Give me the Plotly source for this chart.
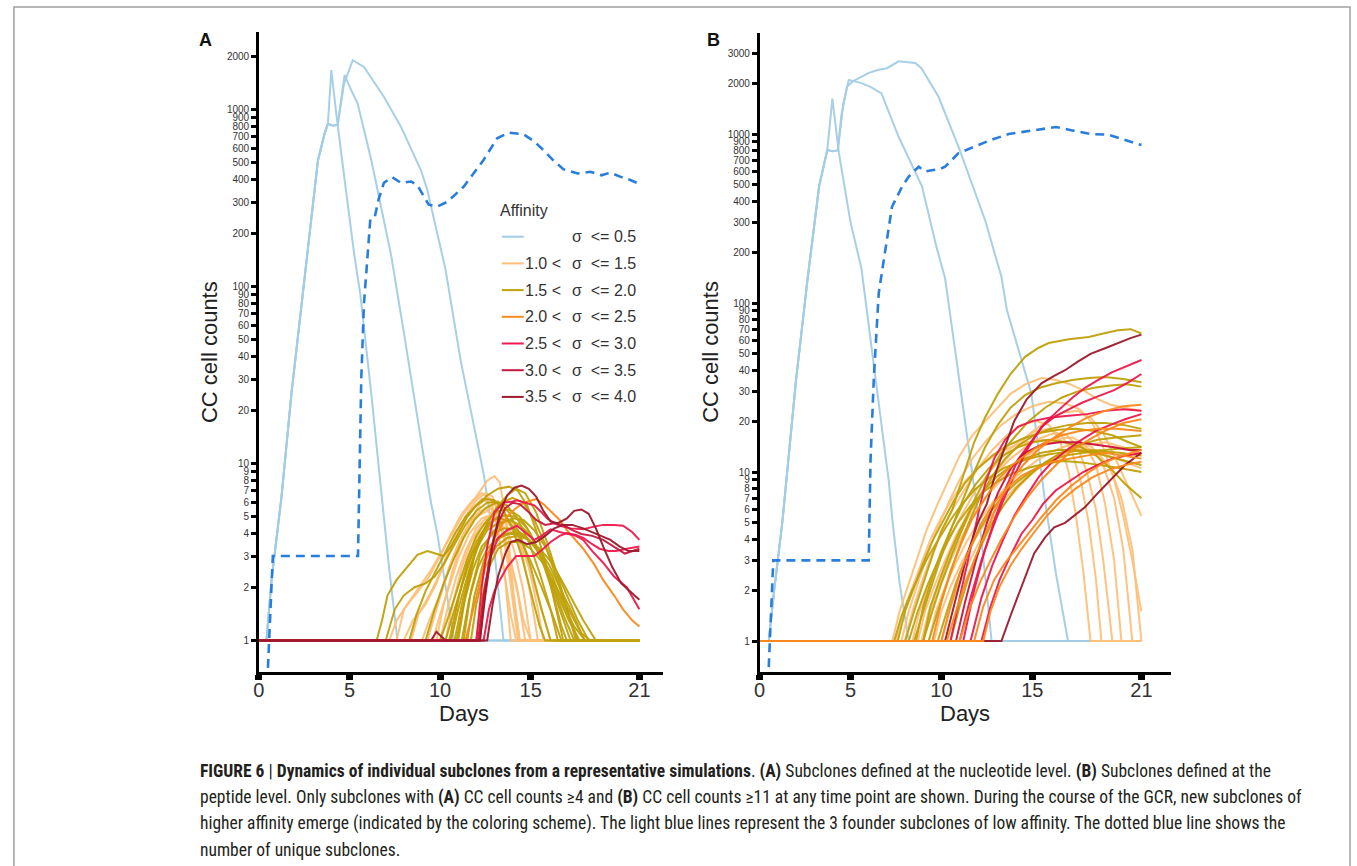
import plotly.graph_objects as go

W, H = 1357, 866

# ---------------------------------------------------------------- data
DAY_TICKS = [0, 5, 10, 15, 21]
COUNT_TICKS_A = [1, 2, 3, 4, 5, 6, 7, 8, 9, 10, 20, 30, 40, 50, 60, 70, 80, 90,
                 100, 200, 300, 400, 500, 600, 700, 800, 900, 1000, 2000]
COUNT_TICKS_B = COUNT_TICKS_A + [3000]
BOLD_TICKS = [1, 2, 10, 100, 1000]

BIN_LEFT = ["", "1.0 <", "1.5 <", "2.0 <", "2.5 <", "3.0 <", "3.5 <"]
BIN_RIGHT = ["σ  <= 0.5", "σ  <= 1.5", "σ  <= 2.0", "σ  <= 2.5",
             "σ  <= 3.0", "σ  <= 3.5", "σ  <= 4.0"]
BIN_COLORS = ["#a3cde5", "#fdc07a", "#bfa20c", "#fa8a1e", "#ee1a4e", "#c8173f", "#9c1a2c"]
UNIQUE_COLOR = "#1f78da"

# ---- Panel A: founders (light blue) and number of unique subclones (dashed)
A_FOUNDERS = [
    [(0, 1), (0.42, 1), (0.7, 2.2), (1.25, 6.5), (1.8, 25), (2.62, 141), (3.26, 515),
     (3.63, 733), (3.81, 835), (4.0, 1670), (4.27, 950), (4.73, 402), (5.27, 150),
     (5.6, 90), (6.2, 25), (6.75, 7), (7.2, 2.5), (7.65, 1), (21, 1)],
    [(0, 1), (0.42, 1), (0.7, 2.2), (1.25, 6.5), (1.8, 25), (2.62, 141), (3.26, 515),
     (3.63, 733), (3.81, 830), (4.1, 810), (4.35, 820), (4.55, 1150), (4.73, 1570),
     (5.0, 1350), (5.45, 1080), (6.2, 520), (7.3, 150), (8.0, 55), (8.75, 17.6),
     (9.5, 6), (9.85, 4), (10.3, 2), (10.77, 1), (21, 1)],
    [(0, 1), (0.42, 1), (0.7, 2.2), (1.25, 6.5), (1.8, 25), (2.62, 141), (3.26, 515),
     (3.63, 733), (3.81, 830), (4.1, 810), (4.35, 820), (4.7, 1400), (5.18, 1900),
     (5.8, 1740), (6.9, 1180), (7.84, 800), (8.94, 455), (9.3, 350), (10.3, 125),
     (11.14, 38), (11.8, 18), (12.4, 8.8), (12.9, 4), (13.2, 2), (13.5, 1), (21, 1)],
]
A_UNIQUE = [(0.5, 0.7), (0.77, 3), (5.47, 3), (5.55, 8), (5.65, 30), (5.8, 80), (5.9, 109),
            (6.15, 240), (6.4, 248), (6.6, 309), (6.9, 385), (7.35, 415), (7.84, 385),
            (8.4, 392), (8.75, 373), (9.1, 321), (9.37, 290), (9.85, 283), (10.4, 301),
            (11.3, 366), (12.4, 518), (13.15, 687), (13.8, 740), (14.6, 725), (15.2, 660),
            (15.7, 590), (16.3, 510), (16.8, 460), (17.6, 435), (18.3, 445), (18.9, 425),
            (19.4, 440), (20.0, 415), (20.5, 400), (21.0, 380)]

# ---- Panel A subclones: (day leaving 1, [(day, count), ...])
A_S15 = [
    (7.6, [(8.0, 1.5), (8.7, 1.9), (9.5, 2.5), (10.4, 3.6), (11.2, 5.0), (12.0, 6.5), (12.6, 8.0),
           (13.0, 8.5), (13.3, 7.8), (13.7, 4.4), (14.06, 1.84), (14.4, 1.0)]),
    (8.4, [(8.8, 1.4), (9.4, 1.8), (10.0, 2.4), (10.6, 3.3), (11.2, 4.5), (11.8, 5.6), (12.3, 6.3),
           (12.7, 6.0), (13.1, 4.6), (13.5, 2.6), (13.9, 1.4), (14.2, 1.0)]),
    (9.0, [(9.4, 1.3), (10.0, 1.8), (10.5, 2.6), (11.0, 3.5), (11.6, 4.6), (12.2, 5.4), (12.8, 5.6),
           (13.3, 4.8), (13.8, 3.2), (14.3, 1.8), (14.7, 1.0)]),
    (9.6, [(10.0, 1.4), (10.5, 2.0), (11.0, 2.9), (11.6, 4.0), (12.3, 4.9), (13.0, 5.2), (13.6, 4.6),
           (14.1, 3.2), (14.6, 1.9), (15.0, 1.0)]),
    (10.0, [(10.4, 1.5), (10.9, 2.3), (11.4, 3.2), (12.0, 4.3), (12.6, 5.0), (13.3, 5.3), (14.0, 4.6),
            (14.5, 3.2), (15.0, 1.8), (15.4, 1.0)]),
    (10.3, [(10.7, 1.6), (11.2, 2.6), (11.7, 3.6), (12.3, 4.5), (12.9, 4.9), (13.6, 4.8), (14.3, 4.0),
            (14.9, 2.6), (15.4, 1.5), (15.7, 1.0)]),
    (10.6, [(11.0, 1.7), (11.5, 2.8), (12.0, 3.8), (12.6, 4.4), (13.3, 4.5), (14.0, 4.1), (14.7, 3.0),
            (15.3, 1.9), (16.1, 1.0)]),
    (8.0, [(8.5, 1.3), (9.2, 1.6), (9.8, 2.1), (10.3, 2.9), (10.9, 4.0), (11.5, 5.2), (12.0, 6.2),
           (12.5, 6.8), (12.9, 6.5), (13.3, 5.0), (13.7, 2.9), (14.0, 1.7), (14.3, 1.0)]),
    (7.2, [(7.6, 1.3), (8.2, 1.6), (8.8, 1.9), (9.4, 2.3), (10.0, 3.0), (10.6, 4.0), (11.2, 5.2),
           (11.8, 6.2), (12.3, 6.8), (12.8, 6.3), (13.2, 4.3), (13.6, 2.2), (13.9, 1.0)]),
    (9.3, [(9.8, 1.5), (10.3, 2.2), (10.8, 3.1), (11.4, 4.2), (12.0, 5.0), (12.6, 5.4), (13.1, 5.0),
           (13.6, 3.6), (14.2, 2.1), (14.6, 1.3), (15.0, 1.0)]),
    (9.8, [(10.2, 1.6), (10.7, 2.5), (11.2, 3.6), (11.7, 4.8), (12.2, 5.9), (12.6, 6.4), (13.0, 6.0),
           (13.4, 4.6), (13.8, 2.8), (14.1, 1.6), (14.4, 1.0)]),
]
A_S20 = [
    (6.5, [(6.8, 1.3), (7.1, 1.8), (7.6, 2.2), (8.2, 2.6), (8.75, 3.05), (9.3, 3.2), (9.8, 3.1),
           (10.2, 3.0), (10.6, 3.4), (11.0, 4.0), (11.5, 5.0), (12.0, 5.8), (12.5, 6.3), (13.0, 6.2),
           (13.5, 5.4), (14.0, 4.3), (14.5, 3.0), (15.0, 1.9), (15.5, 1.2), (15.8, 1.0)]),
    (7.0, [(7.5, 1.5), (8.0, 1.8), (8.6, 2.0), (9.2, 2.1), (9.7, 2.3), (10.2, 2.7), (10.8, 3.5),
           (11.4, 4.5), (12.0, 5.4), (12.6, 6.0), (13.2, 6.1), (13.8, 5.3), (14.4, 4.0), (15.0, 2.6),
           (15.6, 1.5), (16.1, 1.0)]),
    (8.3, [(8.7, 1.4), (9.2, 1.9), (9.7, 2.4), (10.2, 3.0), (10.8, 4.0), (11.4, 5.0), (12.0, 5.8),
           (12.6, 6.6), (13.2, 7.2), (13.8, 7.4), (14.3, 7.0), (14.8, 5.8), (15.3, 4.2), (15.8, 2.8),
           (16.3, 1.7), (16.8, 1.0)]),
    (10.0, [(10.5, 1.4), (11.0, 2.0), (11.5, 2.9), (12.0, 3.9), (12.6, 4.8), (13.2, 5.4), (13.8, 5.5),
            (14.4, 5.0), (15.0, 4.0), (15.6, 2.9), (16.2, 1.9), (16.7, 1.2), (17.0, 1.0)]),
    (10.3, [(10.8, 1.5), (11.3, 2.2), (11.8, 3.1), (12.4, 4.1), (13.0, 4.8), (13.6, 5.1), (14.2, 5.0),
            (14.8, 4.3), (15.4, 3.3), (16.0, 2.3), (16.6, 1.5), (17.2, 1.0)]),
    (10.6, [(11.0, 1.5), (11.5, 2.3), (12.0, 3.3), (12.6, 4.2), (13.2, 4.6), (13.8, 4.8), (14.4, 4.5),
            (15.0, 3.9), (15.6, 3.0), (16.2, 2.1), (16.8, 1.4), (17.4, 1.0)]),
    (10.9, [(11.3, 1.6), (11.8, 2.5), (12.3, 3.4), (12.9, 4.0), (13.5, 4.3), (14.1, 4.3), (14.7, 3.9),
            (15.3, 3.3), (15.9, 2.5), (16.5, 1.8), (17.1, 1.3), (17.7, 1.0)]),
    (11.2, [(11.6, 1.7), (12.1, 2.6), (12.6, 3.3), (13.2, 3.8), (13.8, 4.0), (14.4, 4.0), (15.0, 3.6),
            (15.6, 3.0), (16.2, 2.3), (16.8, 1.6), (17.4, 1.2), (18.0, 1.0)]),
    (11.5, [(11.9, 1.8), (12.4, 2.8), (13.0, 3.6), (13.6, 4.0), (14.2, 4.1), (14.8, 3.8), (15.4, 3.3),
            (16.0, 2.7), (16.6, 2.0), (17.2, 1.5), (17.8, 1.1), (18.3, 1.0)]),
    (10.8, [(11.2, 1.6), (11.7, 2.6), (12.2, 3.8), (12.8, 5.0), (13.4, 6.0), (14.0, 6.4), (14.6, 6.0),
            (15.2, 4.8), (15.8, 3.5), (16.4, 2.3), (17.0, 1.5), (17.5, 1.0)]),
    (11.0, [(11.4, 1.8), (11.9, 3.0), (12.5, 4.4), (13.1, 5.6), (13.7, 6.6), (14.2, 7.2), (14.7, 6.8),
            (15.3, 5.3), (15.9, 3.6), (16.5, 2.3), (17.1, 1.4), (17.6, 1.0)]),
    (11.3, [(11.7, 1.9), (12.2, 3.0), (12.8, 4.0), (13.4, 4.6), (14.0, 4.9), (14.6, 4.8), (15.2, 4.2),
            (15.8, 3.4), (16.4, 2.5), (17.0, 1.8), (17.6, 1.3), (18.2, 1.0)]),
    (10.5, [(11.0, 1.7), (11.5, 2.7), (12.0, 3.6), (12.6, 4.5), (13.2, 5.0), (13.8, 4.7), (14.4, 3.8),
            (15.0, 2.8), (15.6, 2.0), (16.2, 1.4), (16.7, 1.0)]),
    (11.7, [(12.0, 1.6), (12.5, 2.6), (13.1, 3.4), (13.7, 3.8), (14.3, 3.9), (14.9, 3.7), (15.5, 3.3),
            (16.1, 2.8), (16.7, 2.2), (17.3, 1.7), (17.9, 1.3), (18.6, 1.0)]),
    (9.2, [(9.7, 1.5), (10.2, 2.1), (10.7, 2.8), (11.3, 3.8), (11.9, 4.8), (12.5, 5.6), (13.1, 6.0),
           (13.7, 5.8), (14.3, 4.8), (14.9, 3.6), (15.5, 2.4), (16.1, 1.5), (16.5, 1.0)]),
    (12.0, [(12.3, 1.7), (12.7, 2.6), (13.2, 3.3), (13.8, 3.6), (14.4, 3.6), (15.0, 3.3), (15.6, 2.8),
            (16.2, 2.2), (16.8, 1.7), (17.4, 1.3), (18.0, 1.0)]),
]
A_S25 = [
    (11.4, [(11.9, 1.6), (12.4, 2.6), (12.9, 3.6), (13.3, 4.3), (13.7, 5.0), (14.1, 5.5), (14.6, 6.0),
            (15.0, 6.2), (15.3, 6.3), (15.7, 5.9), (16.1, 5.4), (16.6, 4.8), (17.0, 4.2), (17.5, 3.7),
            (17.9, 3.3), (18.5, 2.7), (19.0, 2.2), (19.6, 1.8), (20.1, 1.5), (20.6, 1.3), (21.0, 1.2)]),
]
A_S30 = [
    (12.0, [(12.3, 2.0), (12.6, 3.4), (13.0, 5.3), (13.5, 6.0), (14.0, 6.1), (14.25, 6.2), (14.7, 6.0),
            (15.2, 5.8), (15.6, 5.3), (15.9, 4.9), (16.3, 4.6), (16.6, 4.45), (17.2, 4.3), (17.9, 4.25),
            (18.5, 4.4), (19.0, 4.5), (19.6, 4.5), (20.1, 4.45), (20.6, 4.1), (21.0, 3.7)]),
    (12.4, [(12.7, 1.5), (13.0, 1.9), (13.3, 2.2), (13.7, 2.6), (14.2, 3.0), (14.7, 3.0), (15.2, 3.0),
            (15.7, 3.3), (16.1, 3.6), (16.6, 3.9), (17.0, 4.05), (17.5, 3.95), (17.9, 3.8), (18.4, 3.5),
            (18.8, 3.3), (19.3, 3.2), (19.7, 3.2), (20.3, 3.3), (21.0, 3.4)]),
    (12.2, [(12.5, 2.0), (12.8, 3.0), (13.2, 3.8), (13.7, 4.2), (14.25, 4.45), (14.7, 4.1), (15.2, 3.7),
            (15.6, 3.9), (16.1, 4.25), (16.6, 4.1), (17.0, 4.0), (17.5, 3.9), (17.9, 3.7), (18.4, 3.2),
            (19.0, 2.75), (19.6, 2.3), (20.3, 2.0), (20.7, 1.7), (21.0, 1.5)]),
]
A_S35 = [
    (12.1, [(12.4, 1.8), (12.8, 3.2), (13.2, 4.6), (13.6, 5.6), (14.0, 6.0), (14.4, 5.9), (14.9, 5.3),
            (15.3, 4.8), (15.8, 4.5), (16.3, 4.6), (16.8, 4.5), (17.3, 4.2), (17.8, 4.0), (18.4, 3.9),
            (19.0, 3.7), (19.6, 3.4), (20.2, 3.1), (21.0, 3.3)]),
]
A_S40 = [
    (12.2, [(12.5, 1.8), (12.9, 3.5), (13.3, 5.3), (13.7, 6.6), (14.1, 7.3), (14.5, 7.5), (14.9, 7.2),
            (15.3, 6.5), (15.7, 5.4), (16.1, 4.7), (16.5, 4.6), (17.0, 4.9), (17.4, 5.4), (17.8, 5.5),
            (18.2, 5.2), (18.6, 4.3), (19.0, 3.4), (19.5, 2.6), (20.0, 2.1), (20.5, 1.9), (21.0, 1.7)]),
    (9.5, [(9.8, 1.12), (10.1, 1.05), (10.3, 1.0), (12.6, 1.0), (12.9, 1.6), (13.2, 2.3), (13.6, 3.1),
           (13.9, 3.6), (14.3, 3.7), (14.8, 3.5), (15.3, 3.6), (15.8, 3.9), (16.3, 4.3), (16.8, 4.5),
           (17.3, 4.5), (17.9, 4.3), (18.4, 4.1), (18.9, 3.9), (19.4, 3.7), (19.9, 3.4), (20.4, 3.2),
           (21.0, 3.2)]),
]

# ---- Panel B: founders and number of unique subclones
B_FOUNDERS = [
    [(0, 1), (0.5, 1), (0.8, 2), (1.26, 5.2), (2.0, 35), (2.63, 137), (3.27, 490), (3.72, 804),
     (4.0, 1620), (4.36, 770), (5.0, 300), (5.6, 160), (6.37, 36), (7.1, 8.9), (7.3, 5.2),
     (7.7, 2.2), (8.2, 1), (21, 1)],
    [(0, 1), (0.5, 1), (0.8, 2), (1.26, 5.2), (2.0, 35), (2.63, 137), (3.27, 490), (3.72, 804),
     (4.0, 790), (4.3, 800), (4.6, 1500), (4.9, 2090), (5.6, 2000), (6.1, 1900), (6.7, 1740),
     (7.65, 960), (8.93, 490), (9.7, 220), (10.2, 140), (10.9, 40), (11.66, 10.8), (12.2, 4),
     (12.76, 1), (21, 1)],
    [(0, 1), (0.5, 1), (0.8, 2), (1.26, 5.2), (2.0, 35), (2.63, 137), (3.27, 490), (3.72, 804),
     (4.0, 790), (4.3, 800), (4.5, 1300), (4.8, 1900), (5.1, 2040), (6.0, 2300), (6.55, 2400),
     (7.0, 2450), (7.65, 2690), (8.56, 2630), (8.9, 2450), (9.84, 1660), (10.94, 840), (12.4, 310),
     (13.3, 143), (13.6, 91), (14.95, 29), (15.67, 7.1), (16.3, 2.5), (16.96, 1), (21, 1)],
]
B_UNIQUE = [(0.5, 0.7), (0.75, 3), (6.0, 3), (6.1, 11.8), (6.28, 36), (6.55, 114), (6.83, 180),
            (7.28, 371), (7.83, 487), (8.2, 560), (8.75, 640), (9.1, 600), (9.47, 610), (9.9, 620),
            (10.2, 640), (10.94, 770), (11.8, 840), (12.7, 920), (13.7, 1000), (15.0, 1050),
            (16.3, 1100), (17.2, 1050), (18.2, 1000), (19.2, 990), (20.1, 920), (21.0, 860)]

B_S15 = [
    (7.3, [(7.7, 1.5), (8.2, 2.2), (8.7, 3.2), (9.2, 4.6), (9.8, 6.5), (10.4, 9), (11.0, 12.5),
           (11.7, 16.5), (12.4, 20), (13.1, 24), (13.8, 29), (14.6, 33), (15.5, 36), (16.3, 35),
           (17.1, 33), (17.9, 30), (18.6, 27), (19.3, 25), (20.1, 24), (21.0, 23)]),
    (7.8, [(8.2, 1.5), (8.7, 2.2), (9.2, 3.2), (9.8, 4.7), (10.4, 6.6), (11.0, 9), (11.7, 12),
           (12.5, 15.5), (13.3, 19), (14.1, 22), (15.0, 24.5), (15.9, 26), (16.8, 25.5), (17.6, 23.5),
           (18.3, 19.5), (18.9, 14), (19.5, 9), (20.0, 5.5), (20.5, 3), (21.0, 1.5)]),
    (8.0, [(8.4, 1.5), (8.9, 2.2), (9.4, 3.1), (10.0, 4.4), (10.6, 6), (11.3, 8), (12.0, 10.5),
           (12.8, 13.5), (13.6, 16.5), (14.4, 19), (15.2, 20), (15.9, 19), (16.5, 15.5), (17.0, 10),
           (17.4, 5.5), (17.8, 2.6), (18.2, 1.0)]),
    (8.4, [(8.8, 1.5), (9.3, 2.1), (9.9, 3.0), (10.5, 4.2), (11.2, 5.8), (11.9, 7.8), (12.7, 10.2),
           (13.5, 12.8), (14.3, 15.3), (15.1, 17.3), (15.9, 18), (16.6, 16.5), (17.2, 13), (17.7, 8.5),
           (18.1, 5), (18.5, 2.3), (18.8, 1.0)]),
    (8.7, [(9.1, 1.5), (9.6, 2.1), (10.2, 3.0), (10.8, 4.2), (11.5, 5.8), (12.2, 7.6), (13.0, 9.8),
           (13.8, 12), (14.6, 14), (15.4, 15.8), (16.2, 17), (16.9, 16.5), (17.5, 14), (18.0, 10),
           (18.5, 6), (18.9, 3), (19.4, 1.0)]),
    (9.0, [(9.4, 1.5), (9.9, 2.1), (10.5, 3.0), (11.1, 4.1), (11.8, 5.6), (12.5, 7.2), (13.3, 9),
           (14.1, 11), (14.9, 12.8), (15.7, 14.5), (16.5, 15.8), (17.2, 16), (17.9, 14.5), (18.5, 11),
           (19.0, 6.5), (19.5, 3), (19.9, 1.0)]),
    (9.3, [(9.7, 1.5), (10.2, 2.1), (10.8, 2.9), (11.4, 3.9), (12.1, 5.2), (12.9, 6.8), (13.7, 8.5),
           (14.5, 10.2), (15.3, 11.8), (16.1, 13.2), (16.9, 14.3), (17.6, 15), (18.3, 14), (18.9, 11),
           (19.5, 7), (20.0, 3.5), (20.5, 1.0)]),
    (9.6, [(10.0, 1.5), (10.5, 2.1), (11.1, 2.9), (11.7, 3.8), (12.4, 5.0), (13.2, 6.4), (14.0, 8),
           (14.8, 9.6), (15.6, 11), (16.4, 12.3), (17.2, 13.3), (17.9, 13.8), (18.6, 13), (19.3, 10.5),
           (19.9, 7), (20.5, 3.5), (21.0, 1.0)]),
    (8.9, [(9.3, 1.5), (9.8, 2.1), (10.4, 3.0), (11.0, 4.3), (11.7, 6.0), (12.5, 8.3), (13.3, 11),
           (14.1, 14), (14.9, 17), (15.8, 20), (16.7, 22.5), (17.5, 23), (18.2, 21), (18.9, 17),
           (19.5, 12.5), (20.1, 9), (20.6, 7), (21.0, 5.5)]),
    (7.5, [(7.9, 1.5), (8.4, 2.1), (8.9, 2.9), (9.4, 4.0), (10.0, 5.4), (10.6, 7.0), (11.3, 8.8),
           (12.1, 10.8), (12.9, 12.5), (13.8, 14), (14.7, 15), (15.6, 15.5), (16.5, 15.3), (17.4, 14.5),
           (18.3, 13.5), (19.2, 12.5), (20.1, 11.5), (21.0, 10.5)]),
    (10.0, [(10.4, 1.5), (10.9, 2.1), (11.5, 2.9), (12.1, 3.9), (12.8, 5.2), (13.6, 6.8), (14.4, 8.5),
            (15.2, 10.3), (16.1, 12), (17.0, 13.5), (18.0, 14.5), (19.0, 15), (20.0, 14), (21.0, 12.5)]),
]
B_S20 = [
    (8.0, [(8.5, 1.5), (9.0, 2.2), (9.5, 3.2), (10.0, 4.5), (10.6, 6.0), (11.2, 9.5), (11.8, 15),
           (12.4, 21), (13.1, 29), (13.8, 38), (14.6, 48), (15.3, 54), (15.9, 58), (17.0, 61),
           (18.1, 63), (18.9, 66), (19.7, 69), (20.4, 70), (21.0, 66)]),
    (8.5, [(9.0, 1.5), (9.5, 2.2), (10.0, 3.2), (10.6, 4.8), (11.2, 7), (11.8, 10), (12.4, 14),
           (13.1, 19), (13.8, 24), (14.6, 28.5), (15.4, 31.5), (16.3, 33.5), (17.2, 35), (18.1, 36),
           (19.0, 36.5), (20.0, 35.5), (21.0, 34)]),
    (9.0, [(9.5, 1.5), (10.0, 2.2), (10.6, 3.3), (11.2, 4.8), (11.8, 6.8), (12.5, 9.5), (13.2, 12.5),
           (14.0, 16), (14.8, 20), (15.7, 24), (16.6, 27.5), (17.5, 30), (18.4, 31.5), (19.3, 32.5),
           (20.2, 33), (21.0, 32)]),
    (9.3, [(9.8, 1.5), (10.3, 2.2), (10.9, 3.4), (11.5, 5.0), (12.1, 7.0), (12.8, 9.5), (13.5, 12),
           (14.3, 14.5), (15.1, 16.5), (16.0, 18), (17.0, 19), (18.0, 19.5), (19.0, 19.5), (20.0, 19),
           (21.0, 18)]),
    (8.6, [(9.0, 1.6), (9.5, 2.4), (10.0, 3.4), (10.6, 4.8), (11.2, 6.5), (11.9, 8.5), (12.6, 10.5),
           (13.4, 12.5), (14.2, 14), (15.0, 15), (15.9, 15.5), (16.8, 15), (17.7, 14), (18.5, 12.5),
           (19.3, 10.5), (20.1, 8.5), (21.0, 7)]),
    (7.4, [(7.8, 1.4), (8.3, 1.9), (8.8, 2.5), (9.3, 3.2), (9.9, 4.1), (10.5, 5.2), (11.1, 6.4),
           (11.8, 7.8), (12.6, 9.2), (13.4, 10.5), (14.3, 11.5), (15.2, 12.3), (16.1, 12.8),
           (17.0, 13.2), (18.0, 13.4), (19.0, 13.5), (20.0, 13.8), (21.0, 14)]),
    (9.8, [(10.3, 1.5), (10.8, 2.2), (11.4, 3.2), (12.0, 4.4), (12.7, 5.8), (13.4, 7.3), (14.2, 8.8),
           (15.0, 10.2), (15.9, 11.5), (16.8, 12.5), (17.8, 13), (18.8, 13.2), (19.8, 13), (21.0, 12.5)]),
    (8.2, [(8.7, 1.5), (9.2, 2.1), (9.7, 2.8), (10.3, 3.8), (10.9, 5.0), (11.6, 6.3), (12.3, 7.6),
           (13.1, 8.8), (13.9, 9.8), (14.8, 10.6), (15.7, 11.2), (16.7, 11.6), (17.7, 11.4),
           (18.7, 11), (19.7, 10.6), (21.0, 10)]),
    (10.5, [(11.0, 1.6), (11.5, 2.4), (12.1, 3.5), (12.7, 4.8), (13.4, 6.3), (14.1, 8.0), (14.9, 9.7),
            (15.7, 11.4), (16.6, 13), (17.6, 14.5), (18.6, 15.5), (19.6, 16), (21.0, 16.5)]),
    (9.0, [(9.4, 1.6), (9.9, 2.3), (10.4, 3.2), (11.0, 4.5), (11.6, 6.0), (12.3, 7.7), (13.0, 9.3),
           (13.8, 10.8), (14.6, 12), (15.5, 13), (16.4, 13.5), (17.4, 13.5), (18.4, 13), (19.4, 12.2),
           (20.3, 11.5), (21.0, 11)]),
    (7.6, [(8.0, 1.5), (8.5, 2.1), (9.0, 2.9), (9.5, 3.9), (10.1, 5.2), (10.7, 6.8), (11.3, 8.6),
           (12.0, 10.5), (12.8, 12.5), (13.6, 14.3), (14.5, 15.8), (15.4, 17), (16.4, 17.8),
           (17.4, 18), (18.4, 17.5), (19.4, 16.5), (20.3, 15), (21.0, 14)]),
]
B_S25 = [
    (10.3, [(10.8, 1.5), (11.3, 2.2), (11.9, 3.2), (12.5, 4.6), (13.1, 6.5), (13.8, 8.8), (14.5, 11),
            (15.3, 13.5), (16.2, 16), (17.1, 18.5), (18.0, 21), (19.0, 23), (20.0, 24.5), (21.0, 25)]),
    (11.0, [(11.5, 1.5), (12.1, 2.2), (12.7, 3.0), (13.3, 4.0), (14.0, 5.4), (14.7, 7.0), (15.5, 9.0),
            (16.3, 11), (17.2, 13.5), (18.1, 15.5), (19.0, 17.5), (20.0, 19.5), (21.0, 20.5)]),
    (11.8, [(12.3, 1.6), (12.9, 2.3), (13.5, 2.9), (14.1, 3.5), (14.8, 4.3), (15.5, 5.4), (16.3, 6.8),
            (17.1, 8.2), (18.0, 9.8), (18.9, 11.3), (19.9, 12.5), (21.0, 13.5)]),
    (10.0, [(10.5, 1.6), (11.0, 2.5), (11.6, 3.6), (12.2, 5.0), (12.9, 6.6), (13.6, 8.0), (14.4, 9.5),
            (15.2, 10.5), (16.1, 11.5), (17.0, 12), (18.0, 12.5), (19.0, 13), (20.0, 12.5), (21.0, 12)]),
    (12.3, [(12.7, 1.5), (13.2, 2.1), (13.8, 2.8), (14.4, 3.5), (15.1, 4.4), (15.8, 5.5), (16.6, 6.8),
            (17.4, 8), (18.3, 9.3), (19.2, 10.3), (20.1, 11), (21.0, 11.5)]),
    (9.5, [(10.0, 1.7), (10.5, 2.6), (11.1, 3.8), (11.7, 5.3), (12.4, 7), (13.1, 9), (13.9, 11),
           (14.8, 13), (15.7, 15), (16.6, 16.5), (17.6, 17.5), (18.6, 18), (19.6, 18), (21.0, 17.5)]),
]
B_S30 = [
    (11.2, [(11.8, 2.0), (12.4, 3.5), (13.0, 5.5), (13.6, 8.3), (14.2, 11.8), (15.0, 15.5), (15.7, 19.5),
            (16.4, 23), (17.2, 27.5), (17.9, 31.5), (18.6, 35), (19.4, 39), (20.2, 42.5), (21.0, 46)]),
    (11.0, [(11.6, 1.8), (12.2, 3.0), (12.8, 4.6), (13.4, 6.8), (14.0, 9.5), (14.7, 13.5), (15.5, 18.5),
            (16.3, 21.5), (17.0, 23.5), (17.7, 25.6), (18.6, 28), (19.5, 30.5), (20.3, 34), (21.0, 38)]),
    (11.6, [(12.2, 1.8), (12.8, 2.8), (13.4, 4.0), (14.0, 5.5), (14.7, 7.3), (15.4, 9.5), (16.1, 11.5),
            (16.9, 13.5), (17.7, 15.5), (18.5, 17.5), (19.3, 19), (20.1, 20.5), (21.0, 22)]),
    (12.2, [(12.7, 1.6), (13.2, 2.3), (13.8, 3.2), (14.4, 4.3), (15.0, 5.2), (15.6, 6.5), (16.3, 7.8),
            (17.0, 8.8), (17.8, 10), (18.6, 11), (19.4, 12), (20.2, 12.5), (21.0, 13)]),
    (10.5, [(11.0, 1.8), (11.5, 3.2), (12.0, 5.5), (12.4, 8.5), (12.9, 12), (13.5, 15.5), (14.2, 18.5),
            (15.0, 20), (16.0, 21), (17.0, 21.5), (18.0, 22), (19.0, 23), (20.0, 23.5), (21.0, 23)]),
]
B_S35 = [
    (10.8, [(11.3, 1.7), (11.9, 3.0), (12.5, 5.0), (13.1, 7.5), (13.8, 10.5), (14.6, 13), (15.5, 14.5),
            (16.5, 15), (17.5, 15), (18.5, 14.5), (19.5, 14), (20.3, 13.5), (21.0, 13.5)]),
]
B_S40 = [
    (10.2, [(10.8, 1.8), (11.4, 3.2), (12.0, 5.0), (12.5, 6.5), (13.0, 10), (13.5, 14), (14.0, 20),
            (14.7, 27), (15.5, 33.5), (16.2, 37), (16.8, 40), (17.5, 45), (18.2, 50), (19.0, 54),
            (19.7, 58), (20.4, 62), (21.0, 65)]),
    (13.3, [(13.85, 1.46), (14.6, 2.4), (15.1, 3.3), (15.7, 4.1), (16.2, 4.7), (16.8, 5.0), (17.9, 6.2),
            (18.6, 7.5), (19.3, 9.0), (20.1, 11), (21.0, 13)]),
]

# ---------------------------------------------------------------- helpers
def xp(px):
    return px / W


def yp(py):
    return 1 - py / H


def expand(start, pts):
    seq = [(0, 1), (start, 1)] + list(pts)
    if seq[-1][1] == 1 and seq[-1][0] < 21:
        seq.append((21, 1))
    return seq


fig = go.Figure()


def add_line(seq, color, xa, ya, width=2.0, dash=None):
    fig.add_trace(go.Scatter(
        x=[p[0] for p in seq], y=[p[1] for p in seq], mode="lines",
        line=dict(color=color, width=width, dash=dash), opacity=0.95,
        xaxis=xa, yaxis=ya, showlegend=False, hoverinfo="skip"))


# Panel A
for f in A_FOUNDERS:
    add_line(f, BIN_COLORS[0], "x", "y")
for grp, col in [(A_S15, BIN_COLORS[1]), (A_S20, BIN_COLORS[2]), (A_S25, BIN_COLORS[3]),
                 (A_S30, BIN_COLORS[4]), (A_S35, BIN_COLORS[5]), (A_S40, BIN_COLORS[6])]:
    for start, pts in grp:
        add_line(expand(start, pts), col, "x", "y")
add_line(A_UNIQUE, UNIQUE_COLOR, "x", "y", width=2.6, dash="9px,6px")

# Panel B
for f in B_FOUNDERS:
    add_line(f, BIN_COLORS[0], "x2", "y2")
for grp, col in [(B_S15, BIN_COLORS[1]), (B_S20, BIN_COLORS[2]), (B_S30, BIN_COLORS[4]),
                 (B_S35, BIN_COLORS[5]), (B_S40, BIN_COLORS[6]), (B_S25, BIN_COLORS[3])]:
    for start, pts in grp:
        add_line(expand(start, pts), col, "x2", "y2")
add_line(B_UNIQUE, UNIQUE_COLOR, "x2", "y2", width=2.6, dash="9px,6px")

# ---------------------------------------------------------------- axes
A_X = [xp(254), xp(660)]
B_X = [xp(757), xp(1170)]
A_Y = [yp(672), yp(31.7)]
B_Y = [yp(672), yp(33)]
A_YR = [-(672 - 640.5) / 177, (640.5 - 31.7) / 177]
B_YR = [-(672 - 641) / 169, (641 - 33) / 169]
A_XR = [0, (660 - 254) / 18.2]
B_XR = [0, (1170 - 757) / 18.26]

FONT = "Arial, Liberation Sans, Helvetica, sans-serif"
TICKFONT_Y = dict(family=FONT, size=10, color="#333")
TICKFONT_X = dict(family=FONT, size=20, color="#333")


def xaxis(dom, rng, anchor):
    return dict(domain=dom, range=rng, anchor=anchor, tickmode="array", tickvals=DAY_TICKS,
                ticktext=[str(v) for v in DAY_TICKS], ticks="outside", ticklen=5, tickwidth=7,
                tickcolor="black", showline=True, linecolor="black", linewidth=2.5,
                showgrid=False, zeroline=False, tickfont=TICKFONT_X, fixedrange=True)


def yaxis(dom, rng, anchor, vals):
    return dict(domain=dom, range=rng, anchor=anchor, type="log", tickmode="array", tickvals=vals,
                ticktext=[str(v) for v in vals], ticks="outside", ticklen=5, tickwidth=2.5,
                tickcolor="black", showline=True, linecolor="black", linewidth=2.5,
                showgrid=False, zeroline=False, tickfont=TICKFONT_Y, fixedrange=True)


def boldaxis(over, rng, anchor):
    return dict(overlaying=over, anchor=anchor, range=rng, type="log", tickmode="array",
                tickvals=BOLD_TICKS, ticks="outside", ticklen=6, tickwidth=5.5, tickcolor="black",
                showticklabels=False, showline=False, showgrid=False, zeroline=False, fixedrange=True)


def note(px, py, text, size, color="#222", xanchor="center", angle=0, family=FONT):
    return dict(x=xp(px), y=yp(py), text=text, showarrow=False, xref="paper", yref="paper",
                xanchor=xanchor, yanchor="middle", textangle=angle,
                font=dict(family=family, size=size, color=color))


# ---------------------------------------------------------------- annotations
ann = []
ann.append(note(200, 40, "<b>A</b>", 18, "#111"))
ann.append(note(711, 40, "<b>B</b>", 18, "#111"))
for cx in (204, 707):
    ann.append(note(cx, 352, "CC cell counts", 22, angle=-90))
for cx in (460, 963):
    ann.append(note(cx, 713, "Days", 22))

# legend (panel A)
shapes = []
ann.append(note(494, 211, "Affinity", 16, "#333", xanchor="left"))
for i in range(len(BIN_RIGHT)):
    ry = 236.7 + 26.7 * i
    shapes.append(dict(type="line", xref="paper", yref="paper", x0=xp(498), x1=xp(520),
                       y0=yp(ry), y1=yp(ry), line=dict(color=BIN_COLORS[i], width=2)))
    if BIN_LEFT[i]:
        ann.append(note(559, ry, BIN_LEFT[i], 16, "#333", xanchor="right"))
    ann.append(note(567, ry, BIN_RIGHT[i].replace("  ", "\u00a0\u00a0"), 16, "#333", xanchor="left"))

# caption
CAPTION = [
    "<b>FIGURE 6</b> | <b>Dynamics of individual subclones from a representative simulations</b>. "
    "<b>(A)</b> Subclones defined at the nucleotide level. <b>(B)</b> Subclones defined at the",
    "peptide level. Only subclones with <b>(A)</b> CC cell counts ≥4 and <b>(B)</b> CC cell counts ≥11 "
    "at any time point are shown. During the course of the GCR, new subclones of",
    "higher affinity emerge (indicated by the coloring scheme). The light blue lines represent the 3 "
    "founder subclones of low affinity. The dotted blue line shows the",
    "number of unique subclones.",
]
CAP_FONT = "Liberation Sans Narrow, Arial Narrow, Roboto Condensed, DejaVu Sans Condensed, sans-serif"
for i, line in enumerate(CAPTION):
    ann.append(note(193, 771 + 26.4 * i, line, 17.5, "#231f20", xanchor="left", family=CAP_FONT))

shapes.append(dict(type="rect", xref="paper", yref="paper", x0=xp(8), x1=xp(1350), y0=yp(875),
                   y1=yp(7), line=dict(color="#a0a0a0", width=1.5)))

fig.update_layout(
    width=W, height=H, margin=dict(l=0, r=0, t=0, b=0), autosize=False,
    paper_bgcolor="white", plot_bgcolor="rgba(0,0,0,0)", showlegend=False,
    xaxis=xaxis(A_X, A_XR, "y"), yaxis=yaxis(A_Y, A_YR, "x", COUNT_TICKS_A),
    xaxis2=xaxis(B_X, B_XR, "y2"), yaxis2=yaxis(B_Y, B_YR, "x2", COUNT_TICKS_B),
    yaxis3=boldaxis("y", A_YR, "x"), yaxis4=boldaxis("y2", B_YR, "x2"),
    annotations=ann, shapes=shapes,
)
try:
    fig.update_xaxes(ticklabelstandoff=-7)
except Exception:
    pass

fig.write_html("out.html", config={"displayModeBar": False},
               post_script="document.body.style.margin='0';")
